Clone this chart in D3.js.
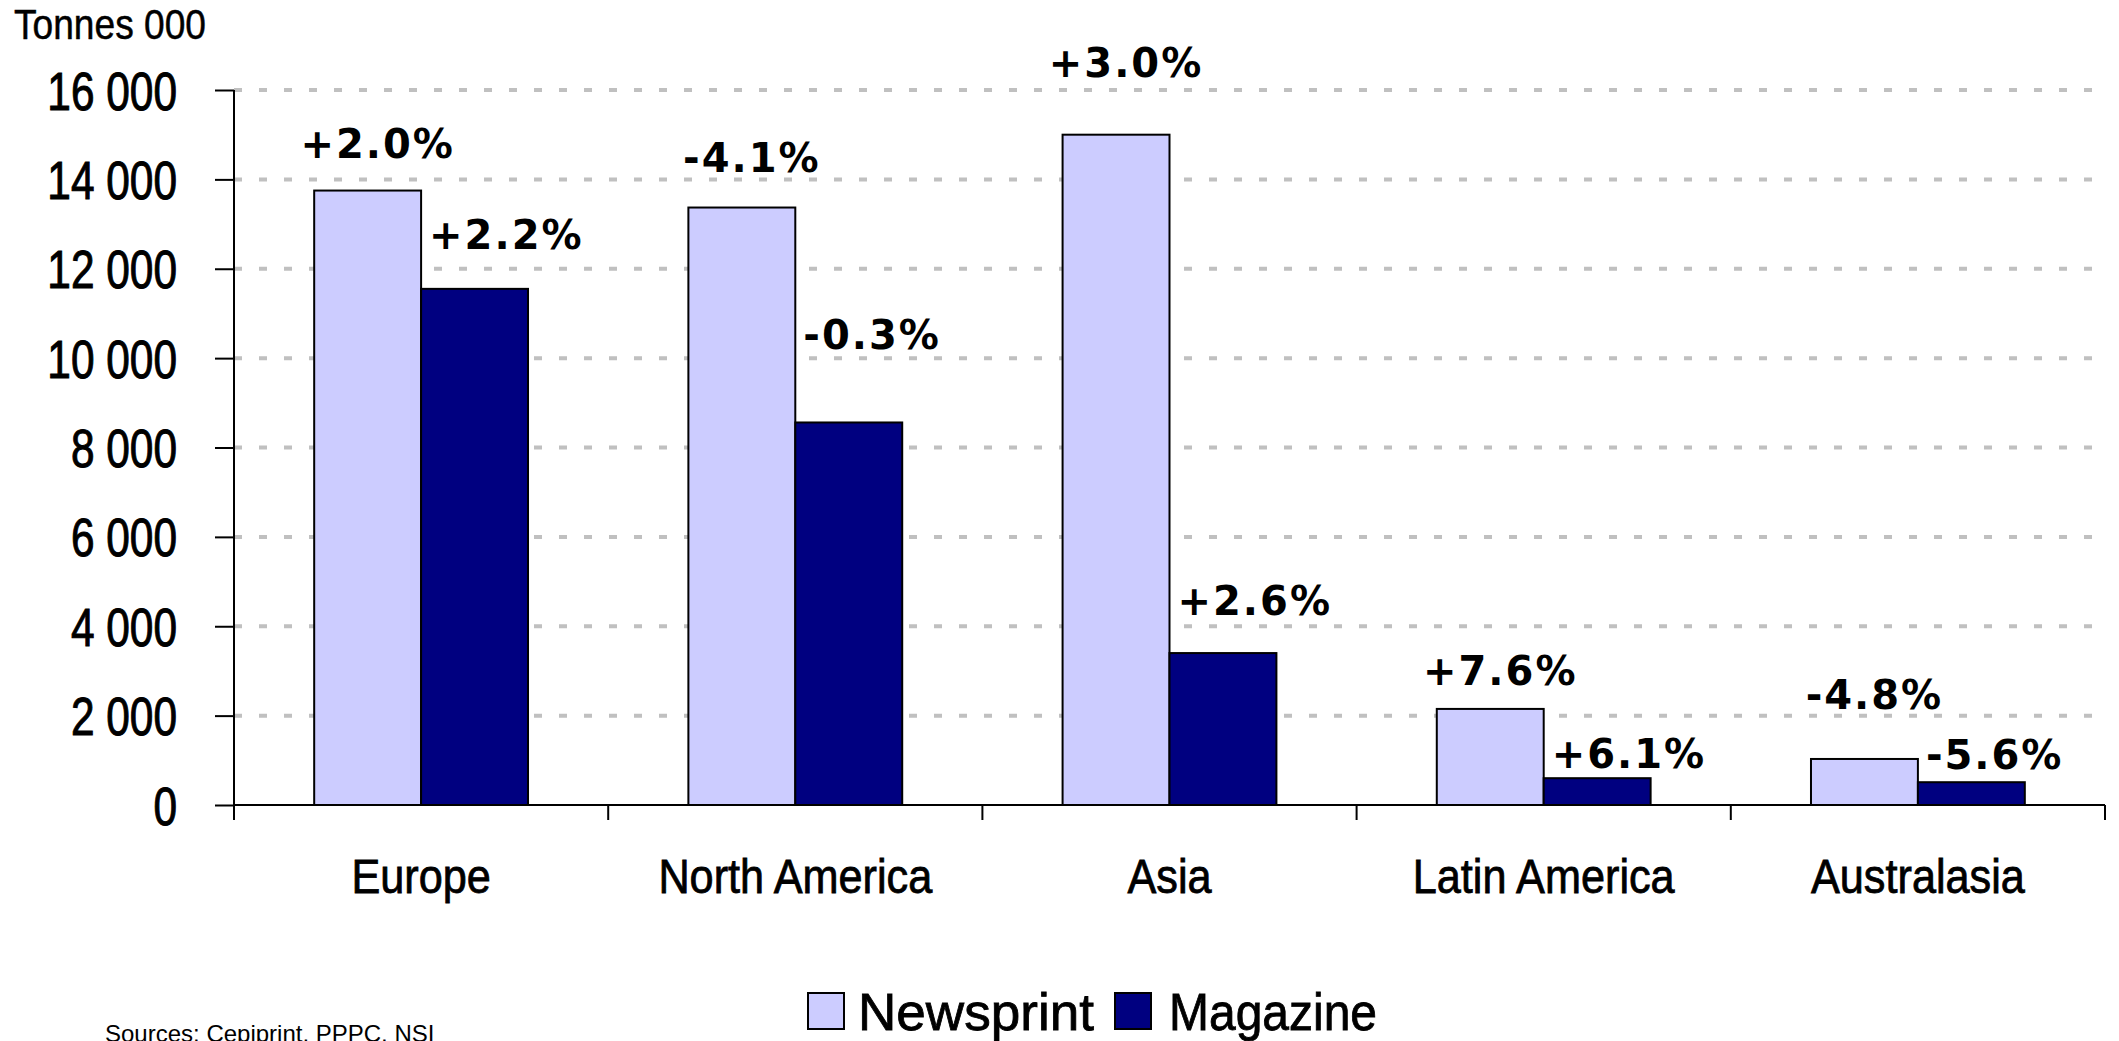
<!DOCTYPE html>
<html>
<head>
<meta charset="utf-8">
<script src="https://cdn.jsdelivr.net/npm/d3@7"></script>
<style>
  html, body { margin: 0; padding: 0; background: #fff; }
  svg { display: block; }
</style>
</head>
<body>
<svg id="chart" width="2119" height="1041"></svg>
<script>
// ---- data ----
const categories = ["Europe", "North America", "Asia", "Latin America", "Australasia"];
const seriesNames = ["Newsprint", "Magazine"];
const newsprint = [13750, 13370, 15000, 2150, 1030];
const magazine = [11550, 8560, 3400, 600, 510];
const newsprintChange = ["+2.0%", "-4.1%", "+3.0%", "+7.6%", "-4.8%"];
const magazineChange = ["+2.2%", "-0.3%", "+2.6%", "+6.1%", "-5.6%"];
// label anchor levels (in tonnes 000)
const newsprintLabelLevel = [14480, 14160, 16290, 2690, 2150];
const magazineLabelLevel = [12440, 10200, 4250, 830, 810];
const yTicks = [0, 2000, 4000, 6000, 8000, 10000, 12000, 14000, 16000];
const yTickLabels = ["0", "2 000", "4 000", "6 000", "8 000", "10 000", "12 000", "14 000", "16 000"];
const unitLabel = "Tonnes 000";
const sourceText = "Sources: Cepiprint, PPPC, NSI";

// ---- layout / style ----
const colors = { Newsprint: "#CCCCFF", Magazine: "#000080" };
const sans = "'Liberation Sans', Arial, sans-serif";
const pctFont = "'DejaVu Sans', Verdana, sans-serif";

// condense a text selection horizontally by a factor
function squeeze(sel, factor) {
  sel.each(function () {
    const w = this.getComputedTextLength();
    d3.select(this)
      .attr("textLength", w * factor)
      .attr("lengthAdjust", "spacingAndGlyphs");
  });
}
function fitWidth(sel, width) {
  sel.attr("textLength", width).attr("lengthAdjust", "spacingAndGlyphs");
}

const svg = d3.select("#chart");
const x0 = d3.scaleBand().domain(categories).range([234, 2105]).paddingInner(0).paddingOuter(0);
const bw = x0.bandwidth();
const x1 = d3.scaleBand().domain(seriesNames).range([bw * 0.75 / 3.5, bw * 2.75 / 3.5]).padding(0);
const y = d3.scaleLinear().domain([0, 16000]).range([805, 90]);

// gridlines
svg.append("g")
  .selectAll("line")
  .data(yTicks.filter(d => d > 0))
  .join("line")
  .attr("x1", 234).attr("x2", 2105)
  .attr("y1", d => y(d)).attr("y2", d => y(d))
  .attr("stroke", "#c0c0c0")
  .attr("stroke-width", 4)
  .attr("stroke-dasharray", "8,17");

// bars
const rows = categories.map((c, i) => ({ cat: c, values: [
  { s: "Newsprint", v: newsprint[i] },
  { s: "Magazine", v: magazine[i] }
]}));

const groups = svg.append("g").selectAll("g")
  .data(rows).join("g")
  .attr("transform", d => `translate(${x0(d.cat)},0)`);

groups.selectAll("rect")
  .data(d => d.values)
  .join("rect")
  .attr("x", d => x1(d.s))
  .attr("width", x1.bandwidth())
  .attr("y", d => y(d.v))
  .attr("height", d => y(0) - y(d.v))
  .attr("fill", d => colors[d.s])
  .attr("stroke", "#000")
  .attr("stroke-width", 2);

// y axis
const yAxis = d3.axisLeft(y)
  .tickValues(yTicks)
  .tickFormat((d, i) => yTickLabels[i])
  .tickSize(19)
  .tickPadding(38);
const gy = svg.append("g").attr("transform", "translate(234,0)").call(yAxis);
gy.select(".domain").remove();
gy.selectAll(".tick line").attr("stroke", "#000").attr("stroke-width", 2);
gy.selectAll(".tick text")
  .attr("font-family", sans)
  .attr("font-size", 53)
  .attr("fill", "#000")
  .attr("stroke", "#000")
  .attr("stroke-width", 1)
  .attr("dy", "0.36em")
  .call(squeeze, 0.8);
svg.append("line")
  .attr("x1", 234).attr("x2", 234)
  .attr("y1", y(16000)).attr("y2", 820)
  .attr("stroke", "#000").attr("stroke-width", 2);

// x axis
const xAxis = d3.axisBottom(x0).tickSize(0).tickPadding(0);
const gx = svg.append("g").attr("transform", `translate(0,${y(0)})`).call(xAxis);
gx.select(".domain").attr("stroke", "#000").attr("stroke-width", 2).attr("d", `M234,0H2105`);
gx.selectAll(".tick text")
  .attr("font-family", sans)
  .attr("font-size", 47.5)
  .attr("fill", "#000")
  .attr("stroke", "#000")
  .attr("stroke-width", 0.8)
  .attr("dy", null)
  .attr("y", 88)
  .call(squeeze, 0.91);
// category separator ticks
svg.append("g")
  .selectAll("line")
  .data(categories.map(c => x0(c)).concat([x0.range()[1]]))
  .join("line")
  .attr("x1", d => d).attr("x2", d => d)
  .attr("y1", y(0)).attr("y2", y(0) + 15)
  .attr("stroke", "#000").attr("stroke-width", 2);

// percentage labels
const pctG = svg.append("g")
  .attr("font-family", pctFont)
  .attr("font-weight", 700)
  .attr("font-size", 40)
  .attr("letter-spacing", 2)
  .attr("fill", "#000");
pctG.selectAll("text.n")
  .data(categories)
  .join("text")
  .attr("class", "n")
  .attr("x", c => x0(c) + x1("Newsprint") + x1.bandwidth() / 2 + 10)
  .attr("y", (c, i) => y(newsprintLabelLevel[i]))
  .attr("text-anchor", "middle")
  .text((c, i) => newsprintChange[i]);
pctG.selectAll("text.m")
  .data(categories)
  .join("text")
  .attr("class", "m")
  .attr("x", c => x0(c) + x1("Magazine") + 8)
  .attr("y", (c, i) => y(magazineLabelLevel[i]))
  .attr("text-anchor", "start")
  .text((c, i) => magazineChange[i]);

// unit label
svg.append("text")
  .attr("x", 14).attr("y", 39)
  .attr("font-family", sans)
  .attr("font-size", 42)
  .attr("fill", "#000")
  .attr("stroke", "#000")
  .attr("stroke-width", 0.5)
  .text(unitLabel)
  .call(fitWidth, 192);

// legend
const legend = svg.append("g").attr("transform", "translate(808,993)");
const legendItems = [
  { s: "Newsprint", x: 0, tx: 50, w: 236 },
  { s: "Magazine", x: 307, tx: 54, w: 208 }
];
legendItems.forEach(it => {
  legend.append("rect")
    .attr("x", it.x).attr("y", 0)
    .attr("width", 36).attr("height", 36)
    .attr("fill", colors[it.s])
    .attr("stroke", "#000").attr("stroke-width", 2);
  legend.append("text")
    .attr("x", it.x + it.tx).attr("y", 37)
    .attr("font-family", sans)
    .attr("font-size", 51.5)
    .attr("fill", "#000")
    .attr("stroke", "#000")
    .attr("stroke-width", 0.8)
    .text(it.s)
    .call(fitWidth, it.w);
});

// source
svg.append("text")
  .attr("x", 105).attr("y", 1042)
  .attr("font-family", sans)
  .attr("font-size", 24)
  .attr("fill", "#000")
  .text(sourceText);
</script>
</body>
</html>
